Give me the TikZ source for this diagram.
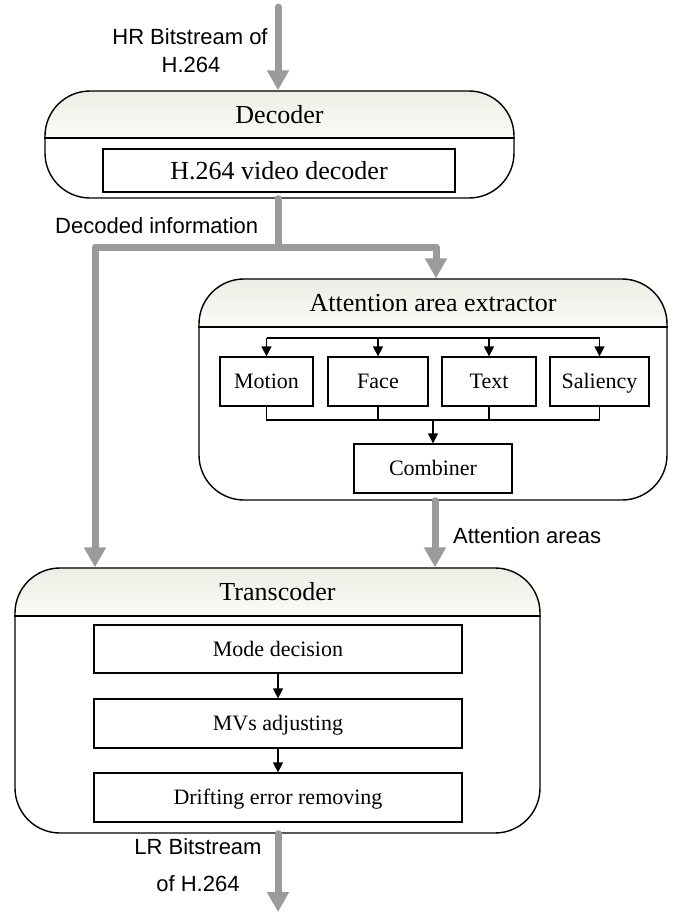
\documentclass[tikz,border=0pt]{standalone}
\usepackage{fontspec}
\setmainfont{Liberation Serif}
\newfontfamily\labelfont{Liberation Sans}
\usetikzlibrary{arrows.meta,backgrounds}

\definecolor{flowgray}{RGB}{155,155,155}
\definecolor{headtop}{RGB}{236,238,228}
\definecolor{headbottom}{RGB}{251,251,248}

\begin{document}
\begin{tikzpicture}[x=1pt,y=-1pt,
  panel/.style={draw=black, line width=1.4pt, rounded corners=45pt, rectangle, inner sep=0pt},
  unit/.style={draw=black, line width=1.2pt, rectangle, inner sep=0pt,
    font=\fontsize{22}{26}\selectfont, text height=14.6pt, text depth=0pt},
  title/.style={font=\fontsize{26}{30}\selectfont, inner sep=0pt, text height=17.2pt, text depth=0pt},
  header/.style={top color=headtop, bottom color=headbottom},
  flowline/.style={draw=flowgray, line width=7pt, line cap=round, line join=round},
  flow/.style={flowline, -{Triangle[width=21pt,length=20pt]}},
  link/.style={draw=black, line width=1.2pt, -{Triangle[width=10pt,length=10pt]}},
  wire/.style={draw=black, line width=1.2pt},
  lbl/.style={font=\labelfont\fontsize{22}{26}\selectfont, inner sep=0pt},
]
\useasboundingbox (0,0) rectangle (678,913);

% ---------------- Decoder ----------------
\node[panel, minimum width=469pt, minimum height=107pt] (dec) at (279.5,144.5) {};
\begin{scope}[on background layer]
  \begin{scope}
    \clip[rounded corners=45pt] (dec.north west) rectangle (dec.south east);
    \shade[header] (dec.north west) rectangle (dec.east |- 0,138);
  \end{scope}
\end{scope}
\draw[line width=1.4pt] (dec.west |- 0,138) -- (dec.east |- 0,138);
\node[title] (dectitle) at (279.5,114.5) {Decoder};
\node[unit, minimum width=352pt, minimum height=43pt,
      font=\fontsize{26}{30}\selectfont, text height=17.2pt] (h264) at (279,170.5) {H.264 video decoder};

% ---------------- Attention area extractor ----------------
\node[panel, minimum width=468pt, minimum height=221pt] (att) at (433,389.5) {};
\begin{scope}[on background layer]
  \begin{scope}
    \clip[rounded corners=45pt] (att.north west) rectangle (att.south east);
    \shade[header] (att.north west) rectangle (att.east |- 0,327);
  \end{scope}
\end{scope}
\draw[line width=1.4pt] (att.west |- 0,327) -- (att.east |- 0,327);
\node[title] (atttitle) at (433,303) {Attention area extractor};

\node[unit, minimum width=93pt, minimum height=49pt] (mot) at (266.5,381.5) {Motion};
\node[unit, minimum width=100pt, minimum height=49pt] (face) at (378,381.5) {Face};
\node[unit, minimum width=94pt, minimum height=49pt] (text) at (489,381.5) {Text};
\node[unit, minimum width=99pt, minimum height=49pt] (sal) at (599.5,381.5) {Saliency};
\node[unit, minimum width=158pt, minimum height=49pt] (comb) at (433,468.5) {Combiner};

% fan-out to the four detectors
\coordinate (fan) at (0,338);
\draw[wire] (mot.north |- fan) -- (sal.north |- fan);
\foreach \b in {mot,face,text,sal}
  \draw[link] (\b.north |- fan) -- (\b.north);
% fan-in to the combiner
\coordinate (merge) at (0,420);
\draw[wire] (mot.south) -- (mot.south |- merge) -- (sal.south |- merge) -- (sal.south);
\draw[wire] (face.south) -- (face.south |- merge);
\draw[wire] (text.south) -- (text.south |- merge);
\draw[link] (comb.north |- merge) -- (comb.north);

% ---------------- Transcoder ----------------
\node[panel, minimum width=525pt, minimum height=265pt] (tr) at (277.5,700.5) {};
\begin{scope}[on background layer]
  \begin{scope}
    \clip[rounded corners=45pt] (tr.north west) rectangle (tr.south east);
    \shade[header] (tr.north west) rectangle (tr.east |- 0,616);
  \end{scope}
\end{scope}
\draw[line width=1.4pt] (tr.west |- 0,616) -- (tr.east |- 0,616);
\node[title] (trtitle) at (277.5,592) {Transcoder};

\node[unit, minimum width=368pt, minimum height=48pt] (mode) at (278,649) {Mode decision};
\node[unit, minimum width=368pt, minimum height=49pt] (mvs) at (278,723.5) {MVs adjusting};
\node[unit, minimum width=368pt, minimum height=49pt] (drift) at (278,797.5) {Drifting error removing};
\draw[link] (mode.south) -- (mvs.north);
\draw[link] (mvs.south) -- (drift.north);

% ---------------- Data flow ----------------
\coordinate (in) at (278,7);
\draw[flow] (in) -- (in |- dec.north);

\coordinate (split) at (278,247);
\coordinate (bendL) at (95,247);
\coordinate (bendR) at (436,247);
\draw[flowline] (split |- dec.south) -- (split);
\draw[flow] (split) -- (bendL) -- (bendL |- tr.north);
\draw[flow] (split) -- (bendR) -- (bendR |- att.north);

\coordinate (areas) at (435,0);
\draw[flow] (areas |- att.south) -- (areas |- tr.north);

\coordinate (out) at (278,912);
\draw[flow] (out |- tr.south) -- (out);

% ---------------- Labels ----------------
\node[lbl, anchor=base] (hr1) at (190,44) {HR Bitstream of};
\node[lbl, anchor=base] (hr2) at (191,72) {H.264};
\node[lbl, anchor=base west] (declbl) at (55,233) {Decoded information};
\node[lbl, anchor=base west] (attlbl) at (453,543) {Attention areas};
\node[lbl, anchor=base] (lr1) at (198,854) {LR Bitstream};
\node[lbl, anchor=base] (lr2) at (198,891) {of H.264};
\end{tikzpicture}
\end{document}
